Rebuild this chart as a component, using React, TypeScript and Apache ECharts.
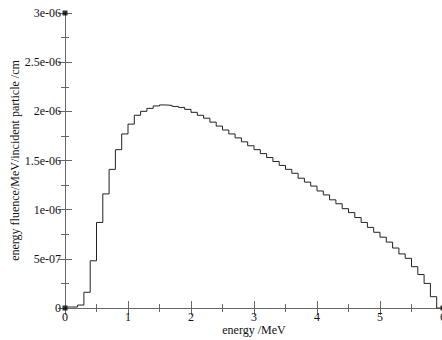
import React, { useEffect, useRef } from "react";
import * as echarts from "echarts";

// Histogram: fluence per 0.1 MeV bin, bins start at 0.0, 0.1, ... 5.9 MeV
const binWidth = 0.1;
const fluence = [
  1e-8, 1e-8, 3e-8, 1.6e-7, 4.8e-7, 8.7e-7, 1.16e-6, 1.41e-6, 1.61e-6, 1.77e-6,
  1.87e-6, 1.96e-6, 2.0e-6, 2.03e-6, 2.055e-6, 2.065e-6, 2.06e-6, 2.05e-6, 2.04e-6, 2.02e-6,
  1.99e-6, 1.96e-6, 1.93e-6, 1.89e-6, 1.85e-6, 1.81e-6, 1.77e-6, 1.73e-6, 1.69e-6, 1.65e-6,
  1.61e-6, 1.57e-6, 1.53e-6, 1.49e-6, 1.45e-6, 1.41e-6, 1.37e-6, 1.32e-6, 1.28e-6, 1.24e-6,
  1.19e-6, 1.15e-6, 1.1e-6, 1.06e-6, 1.01e-6, 9.7e-7, 9.2e-7, 8.7e-7, 8.2e-7, 7.7e-7,
  7.2e-7, 6.7e-7, 6.1e-7, 5.5e-7, 5.05e-7, 4.2e-7, 3.4e-7, 2.5e-7, 1.15e-7, 0,
];

const xTickLabels = ["0", "1", "2", "3", "4", "5", "6"];
const yTickLabels = ["0", "5e-07", "1e-06", "1.5e-06", "2e-06", "2.5e-06", "3e-06"];
const cornerMarks: [number, number][] = [
  [0, 0],
  [0, 3e-6],
  [6, 0],
];

const xName = "energy /MeV";
const yName = "energy fluence/MeV/incident particle /cm";

export default function App() {
  const ref = useRef<HTMLDivElement>(null);
  useEffect(() => {
    if (!ref.current) return;
    const chart = echarts.init(ref.current, undefined, { renderer: "svg" });
    const pts: [number, number][] = fluence.map((v, i) => [
      Math.round(i * binWidth * 10) / 10,
      v,
    ]);
    pts.push([6, fluence[fluence.length - 1]]);

    const font = "Liberation Serif";
    const lineColor = "#666";
    const common = {
      axisLine: { show: true, lineStyle: { color: lineColor, width: 1 } },
      axisTick: { show: true, inside: true, length: 7, lineStyle: { color: lineColor } },
      minorTick: { show: true, splitNumber: 2, length: 4, lineStyle: { color: lineColor } },
      splitLine: { show: false },
      minorSplitLine: { show: false },
    };
    const xCommon = { type: "value", min: 0, max: 6, interval: 1, ...common };
    const yCommon = { type: "value", min: 0, max: 3e-6, interval: 5e-7, ...common };

    chart.setOption({
      animation: false,
      backgroundColor: "#fff",
      textStyle: { fontFamily: font },
      grid: {
        left: 65,
        top: 13,
        right: -1,
        bottom: 32,
        containLabel: false,
        outerBoundsMode: "none",
      },
      xAxis: [
        {
          ...xCommon,
          position: "bottom",
          name: xName,
          nameLocation: "middle",
          nameGap: 16,
          nameMoveOverlap: false,
          nameTextStyle: { fontFamily: font, fontSize: 12, color: "#111" },
          axisLabel: {
            fontFamily: font,
            fontSize: 12,
            color: "#111",
            margin: 3,
            formatter: (v: number) => xTickLabels[Math.round(v)] ?? "",
          },
        },
        { ...xCommon, position: "top", axisLabel: { show: false } },
      ],
      yAxis: [
        {
          ...yCommon,
          position: "left",
          name: yName,
          nameLocation: "middle",
          nameRotate: 90,
          nameGap: 44,
          nameMoveOverlap: false,
          nameTextStyle: { fontFamily: font, fontSize: 12, color: "#111" },
          axisLabel: {
            fontFamily: font,
            fontSize: 12,
            color: "#111",
            margin: 4,
            formatter: (v: number) => yTickLabels[Math.round(v / 5e-7)] ?? "",
          },
        },
        { ...yCommon, position: "right", axisLabel: { show: false } },
      ],
      series: [
        {
          type: "line",
          step: "end",
          data: pts,
          xAxisIndex: 0,
          yAxisIndex: 0,
          showSymbol: false,
          symbol: "none",
          lineStyle: { color: "#222", width: 1 },
        },
        {
          type: "scatter",
          data: cornerMarks,
          xAxisIndex: 0,
          yAxisIndex: 0,
          symbol: "rect",
          symbolSize: 5,
          clip: false,
          itemStyle: { color: "#000" },
        },
      ],
    });
    return () => chart.dispose();
  }, []);
  return (
    <div
      ref={ref}
      style={{ position: "fixed", left: 0, top: 0, width: 442, height: 340 }}
    />
  );
}
